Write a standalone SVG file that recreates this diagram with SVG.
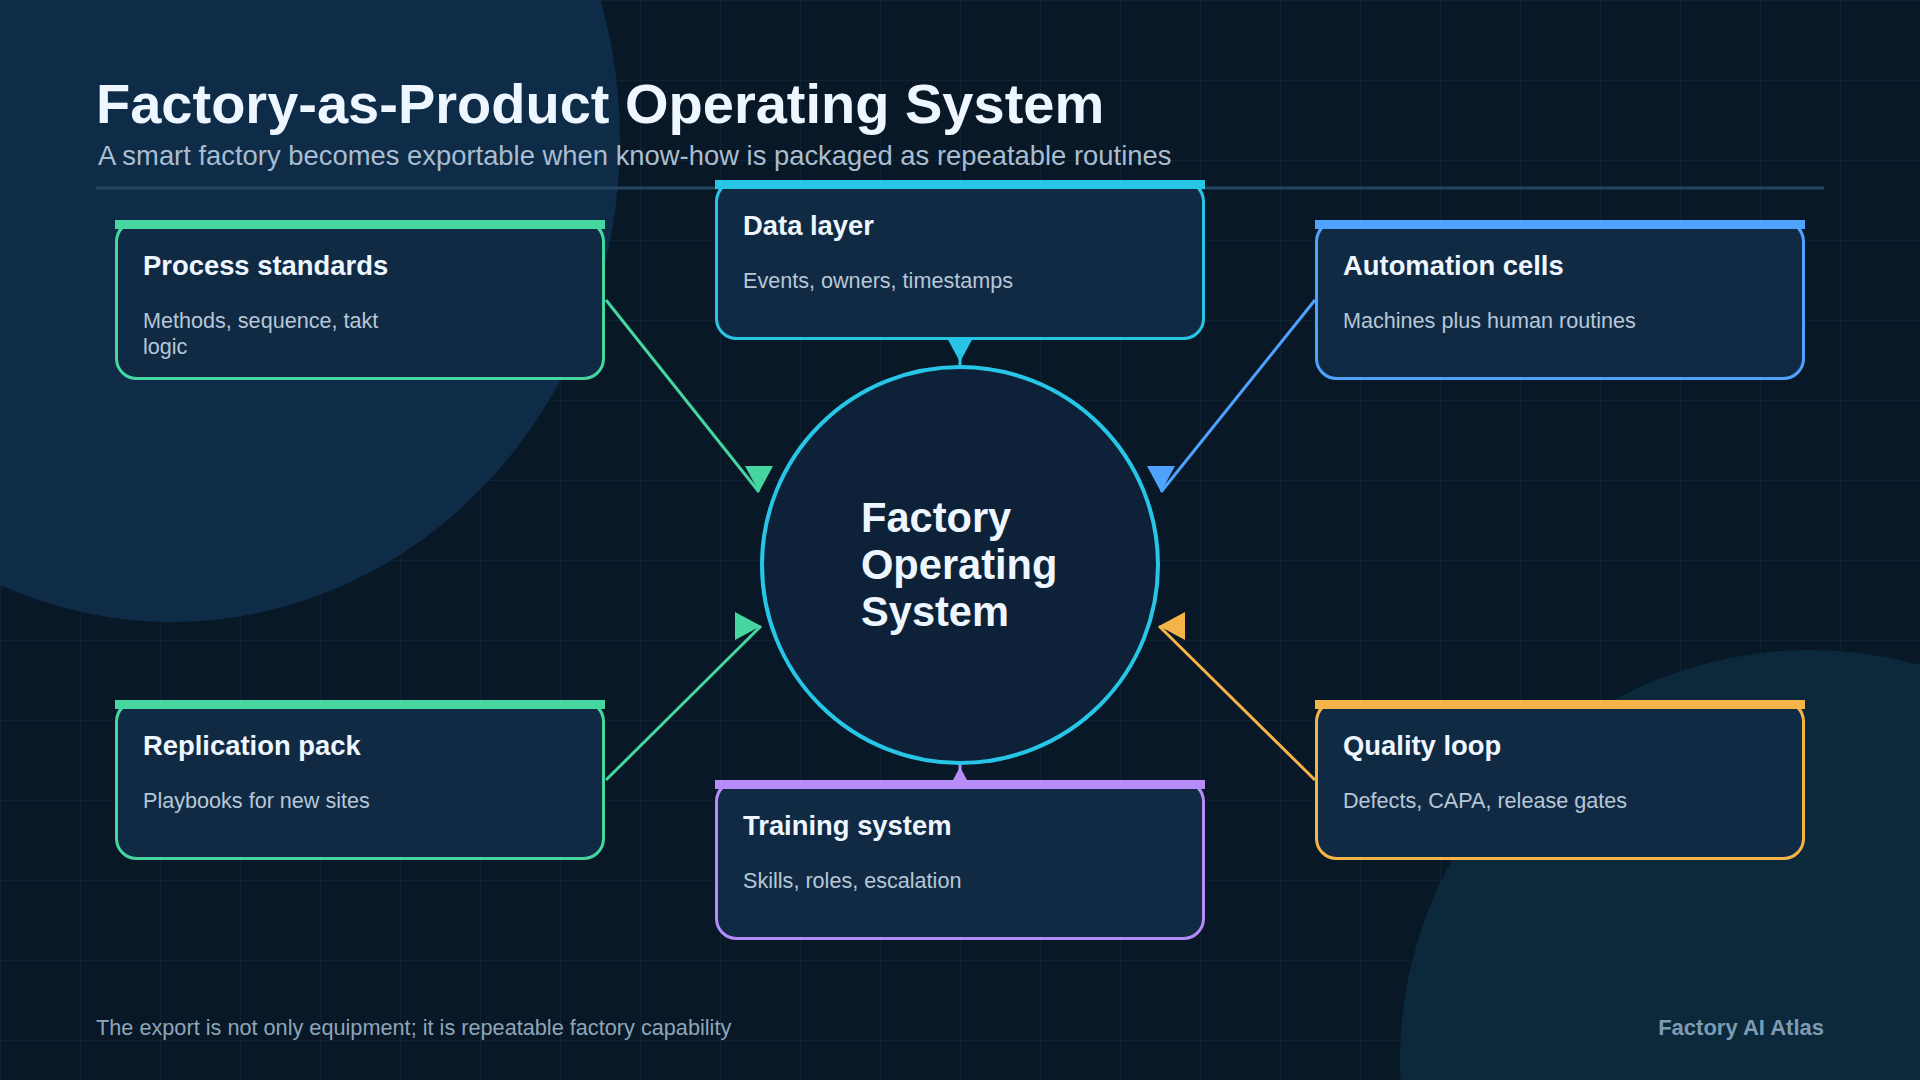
<svg xmlns="http://www.w3.org/2000/svg" width="1920" height="1080" viewBox="0 0 1920 1080">
<defs>
<pattern id="grid" width="80" height="80" patternUnits="userSpaceOnUse">
<path d="M80,0 L0,0 L0,80" fill="none" stroke="#0f2234" stroke-width="2"/>
</pattern>
<marker id="ah-green-down" markerUnits="userSpaceOnUse" viewBox="0 0 26 28" markerWidth="26" markerHeight="28" refX="26" refY="14" orient="90"><path d="M0,0 L26,14 L0,28 Z" fill="#46d69f"/></marker>
<marker id="ah-blue-down" markerUnits="userSpaceOnUse" viewBox="0 0 26 28" markerWidth="26" markerHeight="28" refX="26" refY="14" orient="90"><path d="M0,0 L26,14 L0,28 Z" fill="#4fa3ff"/></marker>
<marker id="ah-cyan-down" markerUnits="userSpaceOnUse" viewBox="0 0 29 28" markerWidth="29" markerHeight="28" refX="29" refY="14" orient="90"><path d="M0,0 L26,14 L0,28 Z" fill="#27c6e7"/></marker>
<marker id="ah-green-right" markerUnits="userSpaceOnUse" viewBox="0 0 26 28" markerWidth="26" markerHeight="28" refX="26" refY="14" orient="0"><path d="M0,0 L26,14 L0,28 Z" fill="#46d69f"/></marker>
<marker id="ah-amber-left" markerUnits="userSpaceOnUse" viewBox="0 0 26 28" markerWidth="26" markerHeight="28" refX="26" refY="14" orient="180"><path d="M0,0 L26,14 L0,28 Z" fill="#f5b447"/></marker>
<marker id="ah-purple-up" markerUnits="userSpaceOnUse" viewBox="0 0 29 28" markerWidth="29" markerHeight="28" refX="29" refY="14" orient="270"><path d="M0,0 L26,14 L0,28 Z" fill="#b68cf9"/></marker>
</defs>
<style>
text { font-family: "Liberation Sans", Arial, sans-serif; }
.title { font-size: 56px; font-weight: 700; fill: #eef6ff; }
.subtitle { font-size: 27.4px; fill: #a9bdd1; }
.box { fill: #112a44; stroke-width: 3; }
.ntitle { font-size: 27.4px; font-weight: 700; fill: #eef6ff; }
.ndesc { font-size: 21.6px; fill: #b6c7d8; }
.conn { fill: none; stroke-width: 3; }
.center-text { font-size: 41.6px; font-weight: 700; fill: #eef6ff; }
.foot { font-size: 21.7px; fill: #8ea5ba; }
.brand { font-size: 22px; font-weight: 700; fill: #7d9bb3; }
.green { stroke: #46d69f; }
.cyan { stroke: #27c6e7; }
.blue { stroke: #4fa3ff; }
.purple { stroke: #b68cf9; }
.amber { stroke: #f5b447; }
</style>

<rect x="0" y="0" width="1920" height="1080" fill="#081826"/>
<rect x="0" y="0" width="1920" height="1080" fill="url(#grid)"/>
<ellipse cx="172" cy="140" rx="448" ry="482" fill="#0e2b47"/>
<circle cx="1810" cy="1060" r="410" fill="#0b293b"/>

<g id="header">
<text class="title" x="96" y="123">Factory-as-Product Operating System</text>
<text class="subtitle" x="98" y="165">A smart factory becomes exportable when know-how is packaged as repeatable routines</text>
<line x1="96" y1="188" x2="1824" y2="188" stroke="#24445f" stroke-width="3"/>
</g>

<g id="connectors">
<path class="conn green" d="M606,300 L759,492" marker-end="url(#ah-green-down)"/>
<path class="conn blue" d="M1315,300 L1161,492" marker-end="url(#ah-blue-down)"/>
<path class="conn cyan" d="M960,340 L960,365" marker-end="url(#ah-cyan-down)"/>
<path class="conn green" d="M606,780 L761,626" marker-end="url(#ah-green-right)"/>
<path class="conn amber" d="M1315,780 L1159,626" marker-end="url(#ah-amber-left)"/>
<path class="conn purple" d="M960,790 L960,764" marker-end="url(#ah-purple-up)"/>
</g>

<g id="node-center">
<circle cx="960" cy="565" r="198" fill="#0d2238" stroke="#27c6e7" stroke-width="4"/>
<text class="center-text" x="861" y="532">Factory</text>
<text class="center-text" x="861" y="579">Operating</text>
<text class="center-text" x="861" y="626">System</text>
</g>

<g id="node-process">
<rect class="box green" x="116.5" y="221.5" width="487" height="157" rx="20"/>
<rect x="115" y="220" width="490" height="9" fill="#46d69f"/>
<text class="ntitle" x="143" y="275">Process standards</text>
<text class="ndesc" x="143" y="328">Methods, sequence, takt</text>
<text class="ndesc" x="143" y="354">logic</text>
</g>

<g id="node-data">
<rect class="box cyan" x="716.5" y="181.5" width="487" height="157" rx="20"/>
<rect x="715" y="180" width="490" height="9" fill="#27c6e7"/>
<text class="ntitle" x="743" y="235">Data layer</text>
<text class="ndesc" x="743" y="288">Events, owners, timestamps</text>
</g>

<g id="node-automation">
<rect class="box blue" x="1316.5" y="221.5" width="487" height="157" rx="20"/>
<rect x="1315" y="220" width="490" height="9" fill="#4fa3ff"/>
<text class="ntitle" x="1343" y="275">Automation cells</text>
<text class="ndesc" x="1343" y="328">Machines plus human routines</text>
</g>

<g id="node-replication">
<rect class="box green" x="116.5" y="701.5" width="487" height="157" rx="20"/>
<rect x="115" y="700" width="490" height="9" fill="#46d69f"/>
<text class="ntitle" x="143" y="755">Replication pack</text>
<text class="ndesc" x="143" y="808">Playbooks for new sites</text>
</g>

<g id="node-training">
<rect class="box purple" x="716.5" y="781.5" width="487" height="157" rx="20"/>
<rect x="715" y="780" width="490" height="9" fill="#b68cf9"/>
<text class="ntitle" x="743" y="835">Training system</text>
<text class="ndesc" x="743" y="888">Skills, roles, escalation</text>
</g>

<g id="node-quality">
<rect class="box amber" x="1316.5" y="701.5" width="487" height="157" rx="20"/>
<rect x="1315" y="700" width="490" height="9" fill="#f5b447"/>
<text class="ntitle" x="1343" y="755">Quality loop</text>
<text class="ndesc" x="1343" y="808">Defects, CAPA, release gates</text>
</g>

<g id="footer">
<text class="foot" x="96" y="1035">The export is not only equipment; it is repeatable factory capability</text>
<text class="brand" x="1824" y="1035" text-anchor="end">Factory AI Atlas</text>
</g>
</svg>
